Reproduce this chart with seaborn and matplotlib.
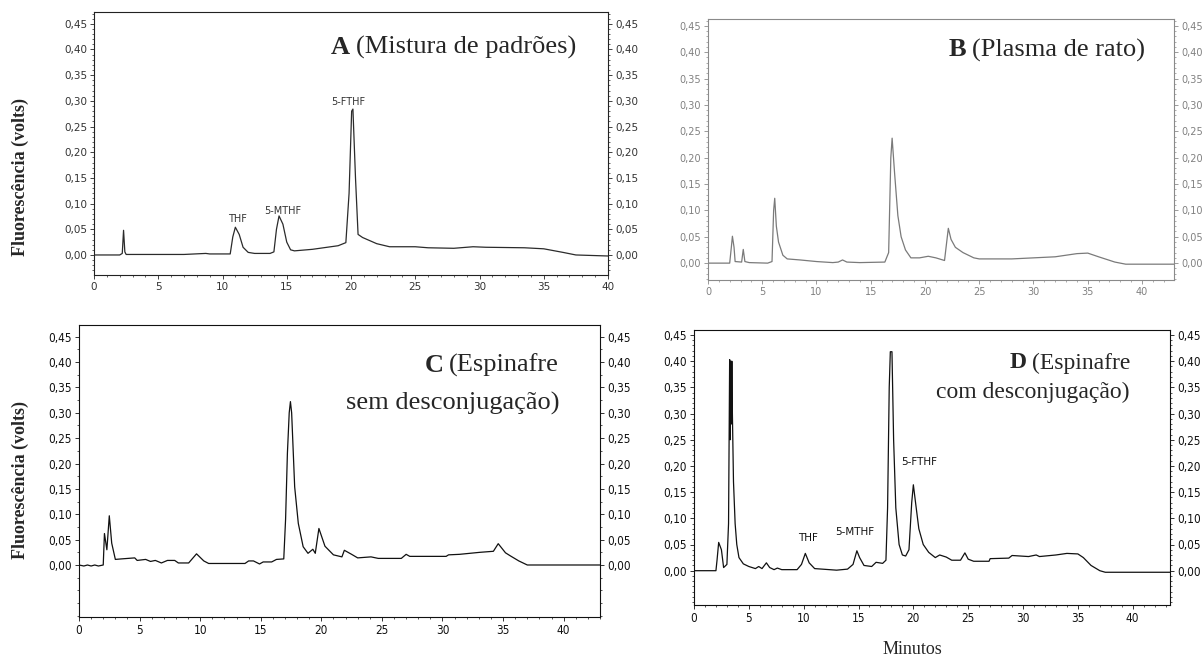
import numpy as np
import pandas as pd
import seaborn as sns
import matplotlib
matplotlib.use('Agg')
from matplotlib import pyplot as plt
from matplotlib.ticker import FuncFormatter, MultipleLocator, FixedLocator

####### DATA #######
a_time = [0, 2.0, 2.2, 2.3, 2.4, 2.5, 3.3, 7.0, 8.7, 9.0,
          10.6, 10.8, 11.0, 11.3, 11.6, 12.0, 12.5, 13.7, 14.0, 14.2,
          14.4, 14.7, 15.0, 15.3, 15.6, 17.0, 19.0, 19.6, 19.85, 20.05,
          20.15, 20.35, 20.55, 20.9, 22.0, 23.0, 25.0, 26.0, 28.0, 29.5,
          30.5, 33.5, 35.0, 36.5, 37.5, 40.0]
a_signal = [0, 0, 0.003, 0.048, 0.006, 0.001, 0.001, 0.001, 0.003, 0.002,
            0.002, 0.035, 0.054, 0.04, 0.015, 0.005, 0.003, 0.003, 0.006, 0.05,
            0.076, 0.06, 0.025, 0.01, 0.008, 0.011, 0.018, 0.024, 0.12, 0.28,
            0.284, 0.15, 0.04, 0.034, 0.022, 0.016, 0.016, 0.014, 0.013, 0.016,
            0.015, 0.014, 0.012, 0.005, 0.0, -0.002]

b_time = [0, 2.0, 2.15, 2.25, 2.4, 2.5, 3.1, 3.25, 3.4, 3.8,
          5.5, 5.9, 6.05, 6.15, 6.3, 6.5, 6.9, 7.3, 8.5, 10.0,
          11.5, 12.0, 12.4, 12.8, 14.0, 16.3, 16.65, 16.85, 16.97, 17.2,
          17.5, 17.8, 18.2, 18.7, 19.5, 20.3, 21.0, 21.8, 22.0, 22.15,
          22.4, 22.8, 23.5, 24.5, 25.0, 28.0, 30.0, 32.0, 34.0, 35.0,
          36.0, 37.5, 38.5, 43.0]
b_signal = [0, 0, 0.03, 0.051, 0.03, 0.003, 0.002, 0.026, 0.003, 0.001,
            0.0, 0.003, 0.10, 0.123, 0.07, 0.04, 0.015, 0.008, 0.006, 0.003,
            0.001, 0.002, 0.006, 0.002, 0.001, 0.002, 0.02, 0.2, 0.237, 0.17,
            0.09, 0.05, 0.025, 0.01, 0.01, 0.013, 0.01, 0.005, 0.04, 0.066,
            0.045, 0.03, 0.02, 0.01, 0.008, 0.008, 0.01, 0.012, 0.018, 0.019,
            0.012, 0.002, -0.002, -0.002]

c_time = [0, 0.4, 0.7, 1.0, 1.3, 1.6, 2.0, 2.1, 2.3, 2.5,
          2.7, 3.0, 3.5, 4.6, 4.8, 5.5, 5.9, 6.3, 6.8, 7.3,
          7.9, 8.2, 9.05, 9.7, 10.3, 10.7, 13.7, 14.0, 14.4, 14.9,
          15.2, 15.9, 16.3, 16.9, 17.05, 17.2, 17.35, 17.45, 17.55, 17.8,
          18.1, 18.5, 18.9, 19.3, 19.5, 19.8, 20.3, 21.0, 21.7, 21.9,
          22.5, 23.0, 24.1, 24.7, 26.6, 27.0, 27.3, 30.3, 30.5, 31.4,
          33.1, 34.2, 34.6, 35.2, 35.6, 36.3, 37.0, 43.0]
c_signal = [0, -0.002, 0.0, -0.002, 0.0, -0.002, 0.0, 0.062, 0.03, 0.097,
            0.043, 0.011, 0.012, 0.014, 0.009, 0.011, 0.007, 0.009, 0.004, 0.009,
            0.009, 0.004, 0.004, 0.022, 0.008, 0.003, 0.003, 0.008, 0.008, 0.002,
            0.006, 0.006, 0.011, 0.012, 0.09, 0.22, 0.30, 0.322, 0.30, 0.154,
            0.082, 0.036, 0.023, 0.031, 0.023, 0.072, 0.037, 0.02, 0.016, 0.029,
            0.021, 0.014, 0.016, 0.013, 0.013, 0.021, 0.017, 0.017, 0.02, 0.021,
            0.025, 0.027, 0.042, 0.024, 0.018, 0.008, 0.0, 0.0]

d_time = [0, 2.0, 2.1, 2.25, 2.5, 2.7, 3.0, 3.15, 3.25, 3.3,
          3.35, 3.4, 3.45, 3.5, 3.6, 3.75, 3.9, 4.1, 4.5, 5.0,
          5.6, 5.9, 6.2, 6.6, 6.9, 7.3, 7.6, 8.0, 9.4, 9.8,
          10.15, 10.5, 11.0, 13.0, 14.0, 14.5, 14.85, 15.1, 15.5, 16.2,
          16.6, 17.2, 17.5, 17.65, 17.8, 17.9, 18.05, 18.2, 18.4, 18.7,
          19.0, 19.3, 19.6, 19.85, 20.0, 20.2, 20.5, 20.9, 21.4, 22.0,
          22.4, 23.0, 23.5, 24.3, 24.7, 25.0, 25.5, 26.9, 27.0, 28.7,
          29.0, 30.5, 31.2, 31.5, 33.0, 34.0, 35.0, 35.5, 36.2, 37.0,
          37.5, 43.4]
d_signal = [0, 0, 0.02, 0.054, 0.04, 0.006, 0.012, 0.09, 0.403, 0.25,
            0.40, 0.28, 0.40, 0.30, 0.17, 0.09, 0.05, 0.025, 0.013, 0.008,
            0.004, 0.008, 0.004, 0.015, 0.006, 0.002, 0.005, 0.002, 0.002, 0.012,
            0.033, 0.015, 0.004, 0.001, 0.003, 0.012, 0.038, 0.025, 0.01, 0.008,
            0.016, 0.014, 0.02, 0.12, 0.35, 0.418, 0.418, 0.25, 0.12, 0.05,
            0.03, 0.028, 0.04, 0.13, 0.164, 0.13, 0.08, 0.05, 0.035, 0.025,
            0.03, 0.026, 0.02, 0.02, 0.034, 0.022, 0.018, 0.018, 0.023, 0.024,
            0.029, 0.027, 0.03, 0.027, 0.03, 0.033, 0.032, 0.025, 0.01, 0.0,
            -0.003, -0.003]

y_ticks = [0.0, 0.05, 0.10, 0.15, 0.20, 0.25, 0.30, 0.35, 0.40, 0.45]
x_ticks = [0, 5, 10, 15, 20, 25, 30, 35, 40]

# peak names and where their labels sit (minutes, volts)
a_peaks = ['THF', '5-MTHF', '5-FTHF']
a_peak_pos = [(11.15, 0.070), (14.7, 0.086), (19.8, 0.298)]
d_peaks = ['THF', '5-MTHF', '5-FTHF']
d_peak_pos = [(10.4, 0.062), (14.7, 0.074), (20.5, 0.207)]
##### END DATA #####

sns.set_style('ticks')
plt.rcParams['font.family'] = ['DejaVu Sans']

W, H = 1204, 662
fig = plt.figure(figsize=(W / 100, H / 100), dpi=100)
fig.patch.set_facecolor('white')

SERIF = ['Liberation Serif', 'DejaVu Serif']


def px_axes(left, top, right, bottom):
    return fig.add_axes([left / W, 1 - bottom / H, (right - left) / W, (bottom - top) / H])


def comma(v, pos):
    return f'{v:.2f}'.replace('.', ',')


def draw_panel(ax, time, signal, xlim, ylim, line_color, frame_color, label_color,
               tick_size, ymin_step, condensed=False):
    df = pd.DataFrame({'Minutos': time, 'Fluorescencia': signal})
    sns.lineplot(data=df, x='Minutos', y='Fluorescencia', ax=ax, color=line_color,
                 lw=0.9, sort=False, estimator=None)
    ax.set_xlim(xlim)
    ax.set_ylim(ylim)
    ax.set_xlabel('')
    ax.set_ylabel('')
    ax.yaxis.set_major_locator(FixedLocator(y_ticks))
    ax.yaxis.set_major_formatter(FuncFormatter(comma))
    ax.yaxis.set_minor_locator(MultipleLocator(ymin_step))
    ax.xaxis.set_major_locator(FixedLocator(x_ticks))
    ax.xaxis.set_minor_locator(MultipleLocator(1))
    ax.tick_params(which='both', direction='out', right=True, labelright=True, top=False,
                   color=frame_color, labelcolor=label_color, labelsize=tick_size)
    ax.tick_params(which='major', length=3, width=0.6, pad=2)
    ax.tick_params(which='minor', length=1.5, width=0.5)
    if condensed:
        ticks = ax.xaxis.get_major_ticks(len(x_ticks)) + ax.yaxis.get_major_ticks(len(y_ticks))
        for tk in ticks:
            tk.label1.set_fontstretch('condensed')
            tk.label2.set_fontstretch('condensed')
    for s in ax.spines.values():
        s.set_color(frame_color)
        s.set_linewidth(0.8)


ax_a = px_axes(94, 12, 608, 275)
draw_panel(ax_a, a_time, a_signal, (0, 40), (-0.039, 0.473), '#2b2b2b', '#222222', '#333333',
           7.5, 0.01)
ax_b = px_axes(708, 19, 1174, 280)
draw_panel(ax_b, b_time, b_signal, (0, 42.95), (-0.032, 0.463), '#7a7a7a', '#8a8a8a', '#808080',
           7, 0.01)
ax_c = px_axes(79, 325, 600, 617)
draw_panel(ax_c, c_time, c_signal, (0, 43.0), (-0.1025, 0.473), '#111111', '#111111', '#111111',
           8.5, 0.025, condensed=True)
ax_d = px_axes(694, 330, 1170, 605)
draw_panel(ax_d, d_time, d_signal, (0, 43.4), (-0.0655, 0.4595), '#111111', '#111111', '#111111',
           8.5, 0.01, condensed=True)

for name, (px_, py_) in zip(a_peaks, a_peak_pos):
    ax_a.text(px_, py_, name, ha='center', va='center', fontsize=7, color='#333333')
for name, (px_, py_) in zip(d_peaks, d_peak_pos):
    ax_d.text(px_, py_, name, ha='center', va='center', fontsize=7.5, color='#111111')

renderer = fig.canvas.get_renderer()


def panel_title(x_right, y, letter, rest, size):
    t = fig.text(x_right / W, 1 - y / H, rest, ha='right', va='center', family=SERIF, size=size)
    bb = t.get_window_extent(renderer)
    fig.text((bb.x0 - size * 0.3) / W, 1 - y / H, letter, ha='right', va='center',
             family=SERIF, weight='bold', size=size)


panel_title(576, 47, 'A', '(Mistura de padrões)', 19)
panel_title(1145, 50, 'B', '(Plasma de rato)', 19)
panel_title(559, 365, 'C', '(Espinafre', 19)
fig.text(559 / W, 1 - 403 / H, 'sem desconjugação)', ha='right', va='center', family=SERIF, size=19)
panel_title(1130, 363, 'D', '(Espinafre', 17)
fig.text(1130 / W, 1 - 392 / H, 'com desconjugação)', ha='right', va='center', family=SERIF, size=17)

for yc in [177, 480]:
    fig.text(20 / W, 1 - yc / H, 'Fluorescência (volts)', rotation=90, ha='center', va='center',
             family=SERIF, weight='bold', size=13)
fig.text(912 / W, 1 - 650 / H, 'Minutos', ha='center', va='center', family=SERIF, size=13)

fig.savefig('out.png', dpi=100, facecolor='white')
